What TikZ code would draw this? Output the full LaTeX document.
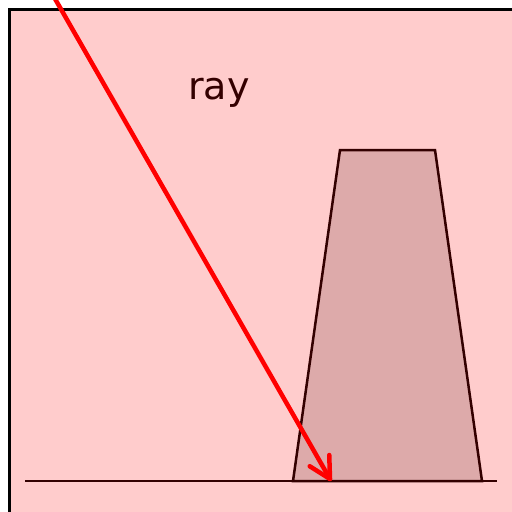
\documentclass[tikz,border=0pt]{standalone}
\usepackage{fontspec}
\setmainfont{DejaVu Sans}
\usetikzlibrary{calc}
\definecolor{bgpink}{HTML}{FFCCCC}
\definecolor{hillfill}{HTML}{DDAAAA}
\definecolor{darkbrown}{HTML}{330000}
\tikzset{
  frame/.style={draw=black, line width=2.5pt, fill=bgpink},
  hill/.style={draw=darkbrown, line width=2.5pt, fill=hillfill, line join=miter},
  ground/.style={draw=darkbrown, line width=2.5pt},
  rayline/.style={draw=red, line width=4.5pt, line cap=round, line join=round},
  lbl/.style={text=darkbrown, font=\fontsize{38}{40}\selectfont, inner sep=0pt}
}
\begin{document}
\begin{tikzpicture}[x=1pt,y=-1pt]
\useasboundingbox (0,0) rectangle (512,512);
\clip (0,0) rectangle (512,512);
\path[frame] (9.5,9.5) rectangle (530,530);
\path[hill] (293,481) -- (340,150) -- (435,150) -- (482,481) -- cycle;
\coordinate (g1) at (25,481);
\coordinate (g2) at (497,481);
\draw[ground] (g1) -- (g2);
\coordinate (r0) at (50,-10);
\coordinate (r1) at (330,479);
\draw[rayline] (r0) -- (r1);
\draw[rayline] ($(r1)!24pt!28:(r0)$) -- (r1) -- ($(r1)!24pt!-28:(r0)$);
\node[lbl] (ray) at (219,93) {ray};
\end{tikzpicture}
\end{document}
